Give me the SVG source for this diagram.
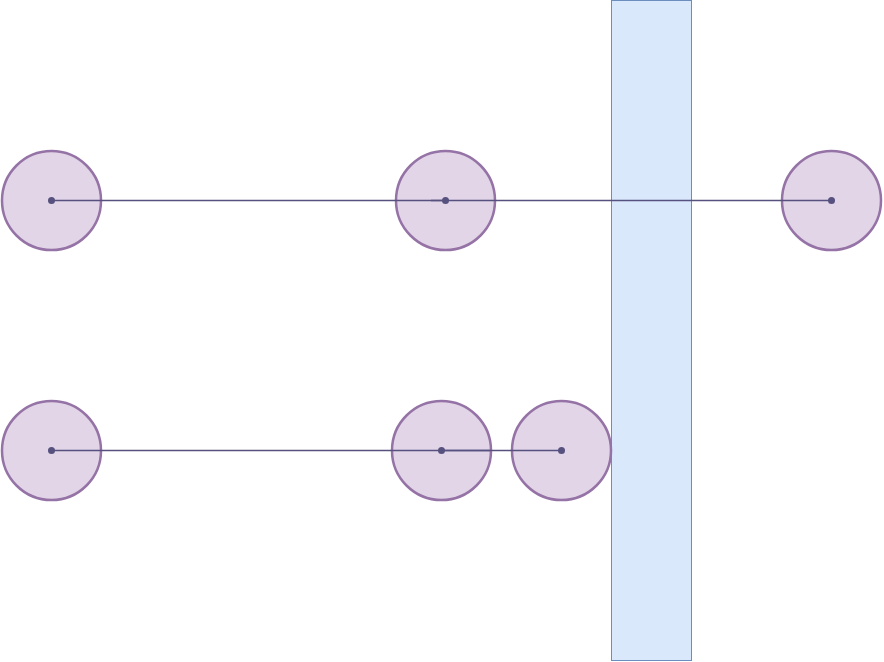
<svg xmlns="http://www.w3.org/2000/svg" width="884" height="662" viewBox="0 0 884 662">
<style>
.node{fill:#e1d5e7;stroke:#9673a6;stroke-width:2.5}
.edge{stroke:#56517e;stroke-width:1.7;fill:none}
.dot{fill:#56517e}
</style>
<rect width="884" height="662" fill="#ffffff"/>
<g id="bar"><rect x="611.5" y="0.5" width="80" height="660" fill="#dae8fc" stroke="#6c8ebf" stroke-width="1"/></g>
<g id="n1"><circle class="node" cx="51.5" cy="200.5" r="49.5"/></g>
<g id="n2"><circle class="node" cx="445.5" cy="200.5" r="49.5"/></g>
<g id="n3"><circle class="node" cx="831.5" cy="200.5" r="49.5"/></g>
<g id="n4"><circle class="node" cx="51.5" cy="450.5" r="49.5"/></g>
<g id="n5"><circle class="node" cx="441.5" cy="450.5" r="49.5"/></g>
<g id="n6"><circle class="node" cx="561.5" cy="450.5" r="49.5"/></g>
<g id="connectors">
<line class="edge" x1="51.5" y1="200.5" x2="445.5" y2="200.5"/>
<line class="edge" x1="431" y1="200.5" x2="831.5" y2="200.5"/>
<line class="edge" x1="51.5" y1="450.5" x2="490" y2="450.5"/>
<line class="edge" x1="441.5" y1="450.5" x2="561.5" y2="450.5"/>
<circle class="dot" cx="51.5" cy="200.5" r="3.5"/>
<circle class="dot" cx="445.5" cy="200.5" r="3.5"/>
<circle class="dot" cx="831.5" cy="200.5" r="3.5"/>
<circle class="dot" cx="51.5" cy="450.5" r="3.5"/>
<circle class="dot" cx="441.5" cy="450.5" r="3.5"/>
<circle class="dot" cx="561.5" cy="450.5" r="3.5"/>
</g>
</svg>
